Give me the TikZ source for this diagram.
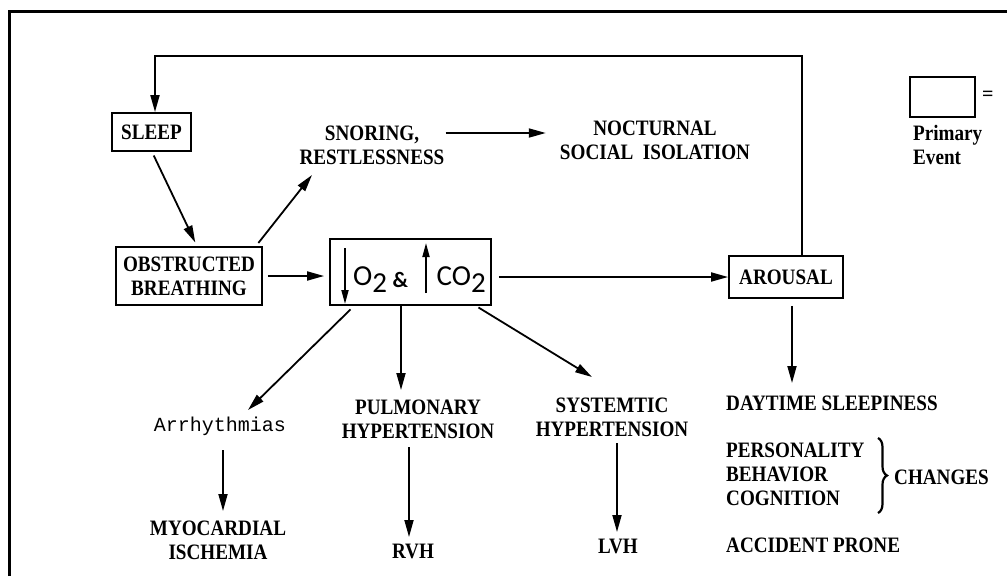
\documentclass[tikz,border=0pt]{standalone}
\usepackage{fontspec}
\setmainfont{Liberation Serif}
\newfontfamily\lblfamily[FakeStretch=0.87]{Liberation Serif}
\newfontfamily\monofont{Liberation Mono}
\newfontfamily\gasfont{Carlito}
\newcommand\lblfont{\lblfamily\fontsize{22}{24}\selectfont\bfseries}
\usetikzlibrary{arrows.meta,calc,decorations.pathreplacing}
\begin{document}
\begin{tikzpicture}[x=1pt,y=-1pt,
  arr/.style={-{Triangle[length=17pt,width=9pt]}, line width=1.8pt},
  sarr/.style={-{Triangle[length=14pt,width=7pt]}, line width=1.7pt},
  boxnode/.style={draw, line width=1.8pt, inner sep=0pt, align=center, font=\lblfont},
  lbl/.style={inner sep=0pt, align=center, font=\lblfont},
  gastext/.style={anchor=base west, inner sep=0pt, font=\gasfont\fontsize{29}{32}\selectfont}
]
\useasboundingbox (0,0) rectangle (1007,576);
\fill[white] (0,0) rectangle (1007,576);
\draw[line width=3pt] (9.5,576) -- (9.5,11) -- (1007,11);

% nodes
\node[boxnode, minimum width=79pt, minimum height=38pt] (sleep) at (151.5,132) {SLEEP};
\node[lbl] (snore) at (372,145) {SNORING,\\RESTLESSNESS};
\node[lbl] (noct) at (655,140) {NOCTURNAL\\SOCIAL\ \ ISOLATION};
\node[boxnode, minimum width=146pt, minimum height=58pt] (ob) at (189,276) {OBSTRUCTED\\BREATHING};
\node[boxnode, minimum width=161pt, minimum height=66pt] (gas) at (410.5,272) {};
\node[boxnode, minimum width=114pt, minimum height=42pt] (arousal) at (786,277) {AROUSAL};
\node[inner sep=0pt, font=\monofont\fontsize{20}{24}\selectfont] (arr) at (220,426) {Arrhythmias};
\node[lbl] (pulm) at (418,419) {PULMONARY\\HYPERTENSION};
\node[lbl] (syst) at (612,417) {SYSTEMTIC\\HYPERTENSION};
\node[lbl] (myo) at (218,540) {MYOCARDIAL\\ISCHEMIA};
\node[lbl] (rvh) at (413,551) {RVH};
\node[lbl] (lvh) at (618,546) {LVH};
\node[lbl, anchor=west] (day) at (726,403) {DAYTIME SLEEPINESS};
\node[lbl, anchor=west, align=left] (pbc) at (726,474.5) {PERSONALITY\\BEHAVIOR\\COGNITION};
\coordinate (braceT) at (878,438);
\coordinate (braceB) at (878,513);
\draw[decorate, decoration={brace, amplitude=9pt}, line width=2.2pt] (braceT) -- (braceB);
\node[lbl, anchor=west] (chg) at (894,477) {CHANGES};
\node[lbl, anchor=west] (acc) at (726,545) {ACCIDENT PRONE};
\node[draw, line width=1.8pt, minimum width=65pt, minimum height=40pt, inner sep=0pt] (leg) at (942.5,97) {};
\node[lbl, anchor=west, font=\fontsize{20}{22}\selectfont\bfseries] (eq) at (982,96) {=};
\node[lbl, anchor=west, align=left] (prim) at (913,145) {Primary\\Event};

% gas box content
\draw[sarr] ($(gas.center)+(-65.5,-24)$) -- ($(gas.center)+(-65.5,32)$);
\draw[sarr] ($(gas.center)+(15.5,21)$) -- ($(gas.center)+(15.5,-29)$);
\node[gastext] (o2) at ($(gas.center)+(-57.5,13)$) {O\raisebox{-7pt}{2}};
\node[gastext, font=\gasfont\fontsize{22}{24}\selectfont\bfseries] (amp) at ($(gas.center)+(-18,15)$) {\&};
\node[gastext] (co2) at ($(gas.center)+(26,13)$) {CO\raisebox{-7pt}{2}};

% connectors
\coordinate (loopR) at (802,56);
\coordinate (loopL) at (155,56);
\draw[arr] (arousal.north -| loopR) -- (loopR) -- (loopL) -- (loopL |- sleep.north);
\draw[arr, shorten <=4pt, shorten >=4pt] ([xshift=0.5pt]sleep.south) -- ([xshift=8pt]ob.north);
\draw[arr, shorten <=4pt] ([xshift=-7pt]ob.north east) -- ($(snore.center)+(-60,30)$);
\draw[arr, shorten <=1pt, shorten >=14pt] ([yshift=12pt]snore.east) -- ([yshift=7pt]noct.west);
\draw[arr, shorten <=5pt, shorten >=5pt] (ob.east) -- (ob.east -| gas.west);
\draw[arr, shorten <=7pt] (gas.east |- arousal.west) -- (arousal.west);
\draw[arr, shorten <=5pt] ($(gas.south west)+(25,0)$) -- ($(arr.center)+(28,-16)$);
\draw[arr] ([xshift=-9.5pt]gas.south) -- ($(pulm.center)+(-17,-29)$);
\draw[arr, shorten <=3pt] ($(gas.south east)+(-16,0)$) -- ($(syst.center)+(-20,-40)$);
\draw[arr] ($(arr.center)+(3,24)$) -- ($(myo.center)+(5,-29)$);
\draw[arr] ($(pulm.center)+(-9,28)$) -- ($(rvh.center)+(-4,-14)$);
\draw[arr] ($(syst.center)+(5,26)$) -- ($(lvh.center)+(-1,-14)$);
\draw[arr] ($(arousal.south)+(6,7)$) -- ($(day.west)+(66,-20)$);
\end{tikzpicture}
\end{document}
